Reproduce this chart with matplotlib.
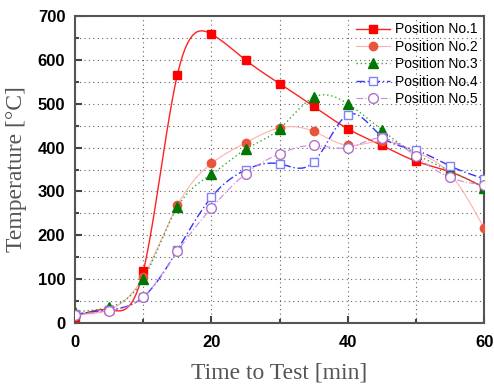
import numpy as np
from matplotlib import pyplot as plt
from matplotlib.ticker import MultipleLocator

time_min = [0, 5, 10, 15, 20, 25, 30, 35, 40, 45, 50, 55, 60]
pos1 = [14, 30, 118, 566, 659, 600, 546, 494, 443, 405, 369, 345, 309]
pos2 = [20, 30, 105, 268, 364, 411, 445, 437, 405, 415, 390, 340, 216]
pos3 = [26, 36, 100, 264, 339, 396, 443, 515, 500, 440, 385, 347, 309]
pos4 = [20, 30, 59, 166, 287, 349, 363, 367, 475, 425, 394, 358, 329]
pos5 = [18, 28, 59, 163, 262, 340, 386, 405, 400, 422, 380, 332, 315]
labels = ['Position No.1', 'Position No.2', 'Position No.3', 'Position No.4', 'Position No.5']


def spline(x, y, n=400):
    # natural cubic spline, like the smoothed lines of the original plot
    x = np.asarray(x, float)
    y = np.asarray(y, float)
    h = np.diff(x)
    k = len(x)
    A = np.zeros((k, k))
    b = np.zeros(k)
    A[0, 0] = A[-1, -1] = 1
    for i in range(1, k - 1):
        A[i, i - 1] = h[i - 1]
        A[i, i] = 2 * (h[i - 1] + h[i])
        A[i, i + 1] = h[i]
        b[i] = 6 * ((y[i + 1] - y[i]) / h[i] - (y[i] - y[i - 1]) / h[i - 1])
    m = np.linalg.solve(A, b)
    xs = np.linspace(x[0], x[-1], n)
    j = np.clip(np.searchsorted(x, xs) - 1, 0, k - 2)
    t1 = x[j + 1] - xs
    t0 = xs - x[j]
    hj = h[j]
    ys = (m[j] * t1 ** 3 + m[j + 1] * t0 ** 3) / (6 * hj) \
        + (y[j] / hj - m[j] * hj / 6) * t1 + (y[j + 1] / hj - m[j + 1] * hj / 6) * t0
    return xs, ys


styles = [
    dict(color='#ff2020', ls='-', lw=1.0, marker='s', mfc='#ff0000', mec='#ff0000', ms=6),
    dict(color='#ffb0b0', ls='-', lw=0.8, marker='o', mfc='#e8553a', mec='#e8553a', ms=6),
    dict(color='#33aa33', ls=(0, (1, 2)), lw=1.0, marker='^', mfc='#007700', mec='#007700', ms=7),
    dict(color='#3333ff', ls=(0, (6, 2, 1, 2)), lw=1.0, marker='s', mfc='white', mec='#8080ff', ms=6),
    dict(color='#cc88dd', ls=(0, (6, 2, 1, 2)), lw=0.8, marker='o', mfc='white', mec='#b070c8', ms=7),
]

fig = plt.figure(figsize=(4.94, 3.84), dpi=100)
ax = fig.add_axes([0.152, 0.159, 0.828, 0.799])

for ys, lab, st in zip([pos1, pos2, pos3, pos4, pos5], labels, styles):
    sx, sy = spline(time_min, ys)
    ax.plot(sx, sy, color=st['color'], ls=st['ls'], lw=st['lw'], zorder=2)
    ax.plot(time_min, ys, ls='none', marker=st['marker'], mfc=st['mfc'], mec=st['mec'],
            ms=st['ms'], zorder=3)
    ax.plot([], [], color=st['color'], ls=st['ls'], lw=st['lw'], marker=st['marker'],
            mfc=st['mfc'], mec=st['mec'], ms=st['ms'], label=lab)

ax.set_xlim(0, 60)
ax.set_ylim(0, 700)
ax.xaxis.set_major_locator(MultipleLocator(20))
ax.xaxis.set_minor_locator(MultipleLocator(10))
ax.yaxis.set_major_locator(MultipleLocator(100))
ax.yaxis.set_minor_locator(MultipleLocator(50))
ax.grid(True, which='both', ls=(0, (1, 3)), color='#666666', lw=0.8)
ax.tick_params(which='both', direction='in', colors='#444444', width=1.5)
ax.tick_params(which='major', length=5, labelcolor='black')
ax.tick_params(which='minor', length=3)
ax.tick_params(axis='x', which='major', pad=9)
ax.tick_params(axis='y', which='major', pad=7)
for lbl in ax.get_xticklabels() + ax.get_yticklabels():
    lbl.set_fontfamily('Liberation Sans')
    lbl.set_fontweight('bold')
    lbl.set_fontsize(12)
for sp in ax.spines.values():
    sp.set_color('#555555')
    sp.set_linewidth(1.5)

ax.set_xlabel('Time to Test [min]', family='Liberation Serif', fontsize=17, color='#555555',
              labelpad=9)
ax.set_ylabel('Temperature [°C]', family='Liberation Serif', fontsize=17, color='#555555',
              labelpad=8)

ax.legend(loc='upper right', frameon=False, prop={'family': 'Liberation Sans', 'size': 10},
          handlelength=2.4, labelspacing=0.25, borderaxespad=0.05, handletextpad=0.4)

fig.savefig('out.png', dpi=100)
